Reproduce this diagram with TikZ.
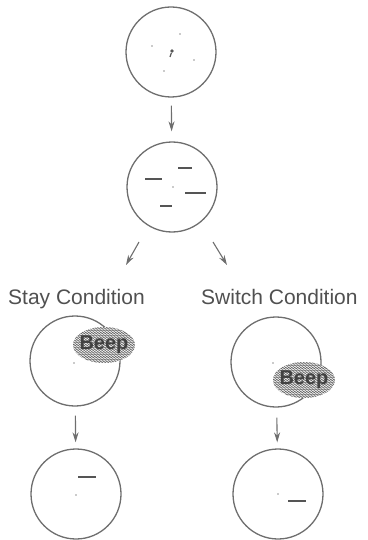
\documentclass[tikz,border=0pt]{standalone}
\usepackage{fontspec}
\setmainfont{Liberation Sans}
\usetikzlibrary{arrows.meta,decorations.pathmorphing,shapes.geometric}
\definecolor{linegray}{RGB}{110,110,110}
\definecolor{dashgray}{RGB}{85,85,85}
\definecolor{dotgray}{RGB}{150,150,150}
\definecolor{textgray}{RGB}{80,80,80}
\definecolor{zzgray}{RGB}{105,105,105}
\definecolor{beepgray}{RGB}{65,65,65}
\begin{document}
\begin{tikzpicture}[x=1pt,y=-1pt,
  ring/.style={circle,draw=linegray,line width=1.3pt,minimum size=90pt,inner sep=0pt},
  arr/.style={draw=linegray,line width=1.1pt,-{Stealth[length=10pt,width=6pt]}},
  dashmark/.style={draw=dashgray,line width=1.7pt},
  spot/.style={circle,fill=dotgray,inner sep=0pt,minimum size=1.8pt},
  lab/.style={text=textgray,font=\fontsize{21}{24}\selectfont,inner sep=0pt},
  zz/.style={draw=zzgray,line width=0.7pt,decorate,decoration={zigzag,segment length=3pt,amplitude=0.9pt}},
  blob/.style={ellipse,fill=white,minimum width=62pt,minimum height=36pt,inner sep=0pt,
    path picture={\foreach \k in {-8,...,8}
      \draw[zz] ([yshift=\k*2.4pt,xshift=-3pt]path picture bounding box.west) -- ([yshift=\k*2.4pt,xshift=3pt]path picture bounding box.east);}},
  beeptext/.style={text=beepgray,font=\bfseries\fontsize{20}{22}\selectfont,inner sep=0pt},
  ]
\useasboundingbox (0,0) rectangle (367,540);

% circles
\node[ring] (c1) at (171,52) {};
\node[ring] (c2) at (172,187) {};
\node[ring] (c3) at (75,361) {};
\node[ring] (c4) at (276,362) {};
\node[ring] (c5) at (76,494) {};
\node[ring] (c6) at (278,494) {};

% circle 1 contents
\node[spot] (d1) at (180,34) {};
\node[spot] (d2) at (152,46) {};
\node[spot] (d3) at (194,60) {};
\node[spot] (d4) at (164,71) {};
\node[circle,fill=dashgray,inner sep=0pt,minimum size=3.6pt] (d5) at (172,51) {};
\coordinate (d5t) at (170,57);
\draw[dashgray,line width=1.2pt] (d5) -- (d5t);

% circle 2 contents
\node[spot] (e0) at (173,187) {};
\draw[dashmark] (178,168) -- (192,168);
\draw[dashmark] (145,179) -- (162,179);
\draw[dashmark] (185,193) -- (206,193);
\draw[dashmark] (160,206) -- (172,206);

% labels
\node[lab,anchor=base west] (stay) at (8,304) {Stay Condition};
\node[lab,anchor=base west] (switch) at (201,304) {Switch Condition};

% arrows
\draw[arr,shorten <=8pt,shorten >=10pt] (c1) -- (c2);
\coordinate (sa) at (139,242);
\coordinate (sb) at (126,265);
\coordinate (wa) at (213,242);
\coordinate (wb) at (227,265);
\draw[arr] (sa) -- (sb);
\draw[arr] (wa) -- (wb);
\draw[arr,shorten <=9pt,shorten >=6pt] (c3) -- (c5);
\draw[arr,shorten <=10pt,shorten >=6pt] (c4) -- (c6);

% circle 3 / 4 centre dots
\node[spot] (f3) at (74,363) {};
\node[spot] (f4) at (273,363) {};

% beep blobs
\node[blob] (b1) at (104,345) {};
\node[beeptext] (b1t) at (b1) {Beep};
\node[blob] (b2) at (304,380) {};
\node[beeptext] (b2t) at (b2) {Beep};

% circle 5 / 6 contents
\node[spot] (g5) at (76,495) {};
\draw[dashmark] (78,477) -- (96,477);
\node[spot] (g6) at (278,494) {};
\draw[dashmark] (288,501) -- (306,501);
\end{tikzpicture}
\end{document}
